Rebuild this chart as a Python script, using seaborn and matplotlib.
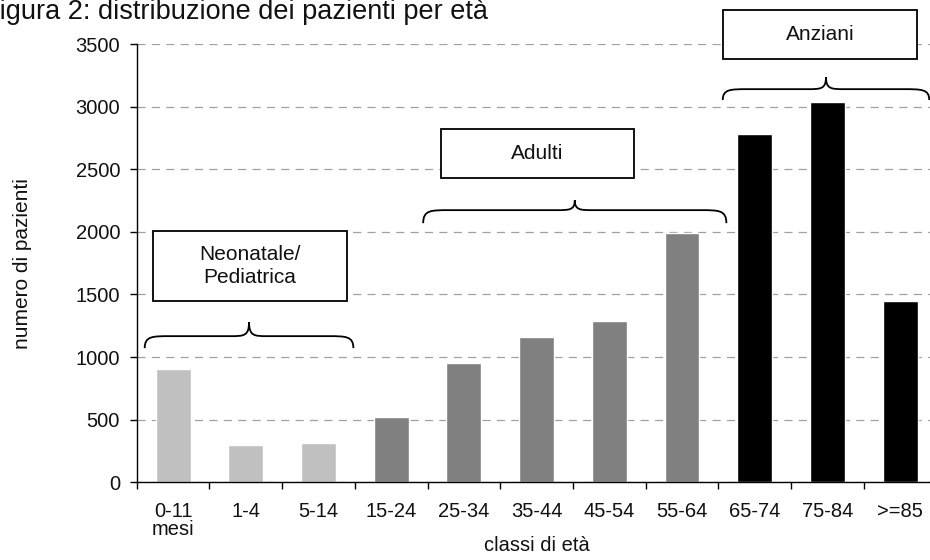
import numpy as np
import pandas as pd
import matplotlib
matplotlib.use("Agg")
import matplotlib.pyplot as plt
import seaborn as sns
from matplotlib.path import Path
from matplotlib.patches import PathPatch, Rectangle

# data
classi = ["0-11\nmesi", "1-4", "5-14", "15-24", "25-34", "35-44",
          "45-54", "55-64", "65-74", "75-84", ">=85"]
pazienti = [905, 295, 310, 520, 955, 1160, 1290, 1990, 2780, 3040, 1450]
gruppi = ["Neonatale/\nPediatrica"] * 3 + ["Adulti"] * 5 + ["Anziani"] * 3
colori = {"Neonatale/\nPediatrica": "#C0C0C0", "Adulti": "#808080", "Anziani": "#000000"}

y_ticks = [0, 500, 1000, 1500, 2000, 2500, 3000, 3500]

df = pd.DataFrame({"classe": classi, "pazienti": pazienti, "gruppo": gruppi})

sns.set_theme(style="white")
plt.rcParams["font.family"] = ["Liberation Sans", "DejaVu Sans"]

FS = 14.5

fig = plt.figure(figsize=(9.3, 5.6), dpi=100)
ax = fig.add_axes([0.147, 0.139, 0.860, 0.782])

sns.barplot(data=df, x="classe", y="pazienti", hue="gruppo", palette=colori,
            dodge=False, width=0.48, legend=False, ax=ax, saturation=1)

ax.set_xlim(-0.5, len(classi) - 0.5)
ax.set_ylim(0, 3500)
ax.set_yticks(y_ticks)
ax.set_yticklabels([str(v) for v in y_ticks], fontsize=FS, color="#111111")
ax.yaxis.grid(True, linestyle=(0, (6.5, 5)), color="#A0A0A0", linewidth=0.9)
ax.set_axisbelow(True)

# tick marks between categories, labels at category centres
ax.set_xticks(np.arange(-0.5, len(classi), 1.0))
ax.set_xticklabels([])
ax.set_xticks(np.arange(len(classi)), minor=True)
ax.set_xticklabels(classi, minor=True, fontsize=FS, color="#111111", linespacing=0.95)
ax.tick_params(axis="x", which="major", direction="out", length=5, width=1, color="black", bottom=True)
ax.tick_params(axis="x", which="minor", length=0, pad=14)
ax.tick_params(axis="y", direction="out", length=5, width=1, color="black", left=True, pad=7)

for s in ["top", "right"]:
    ax.spines[s].set_visible(False)
for s in ["left", "bottom"]:
    ax.spines[s].set_color("black")
    ax.spines[s].set_linewidth(1.0)

ax.set_xlabel("classi di età", fontsize=FS, labelpad=-2, color="#111111")
ax.set_ylabel("numero di pazienti", fontsize=15, labelpad=31, color="#111111")

fig.text(-17 / 930, 1 - 19 / 560, "Figura 2: distribuzione dei pazienti per età",
         fontsize=19.5, va="baseline", ha="left", color="#111111")


def graffa(ax, x0, x1, y_end, y_line, y_peak, a=0.35, b=0.25):
    xm = (x0 + x1) / 2
    verts = [
        (x0, y_end), (x0, y_line), (x0 + a * 0.3, y_line), (x0 + a, y_line),
        (xm - b, y_line),
        (xm - b * 0.3, y_line), (xm, y_line), (xm, y_peak),
        (xm, y_line), (xm + b * 0.3, y_line), (xm + b, y_line),
        (x1 - a, y_line),
        (x1 - a * 0.3, y_line), (x1, y_line), (x1, y_end),
    ]
    codes = [Path.MOVETO, Path.CURVE4, Path.CURVE4, Path.CURVE4, Path.LINETO,
             Path.CURVE4, Path.CURVE4, Path.CURVE4,
             Path.CURVE4, Path.CURVE4, Path.CURVE4, Path.LINETO,
             Path.CURVE4, Path.CURVE4, Path.CURVE4]
    ax.add_patch(PathPatch(Path(verts, codes), facecolor="none", edgecolor="black",
                           linewidth=1.3, clip_on=False, zorder=5))


def riquadro(ax, x0, x1, y0, y1, testo):
    ax.add_patch(Rectangle((x0, y0), x1 - x0, y1 - y0, facecolor="white",
                           edgecolor="black", linewidth=1.3, clip_on=False, zorder=5))
    ax.text((x0 + x1) / 2, (y0 + y1) / 2, testo, ha="center", va="center",
            fontsize=15, color="#111111", zorder=6, linespacing=1.3)


graffa(ax, -0.39, 2.48, 1071, 1167, 1279)
graffa(ax, 3.44, 7.61, 2070, 2174, 2254)
graffa(ax, 7.56, 10.40, 3054, 3141, 3237)

riquadro(ax, -0.28, 2.39, 1447, 2006, "Neonatale/\nPediatrica")
riquadro(ax, 3.68, 6.34, 2430, 2822, "Adulti")
riquadro(ax, 7.57, 10.23, 3381, 3773, "Anziani")

fig.savefig("out.png", dpi=100)
